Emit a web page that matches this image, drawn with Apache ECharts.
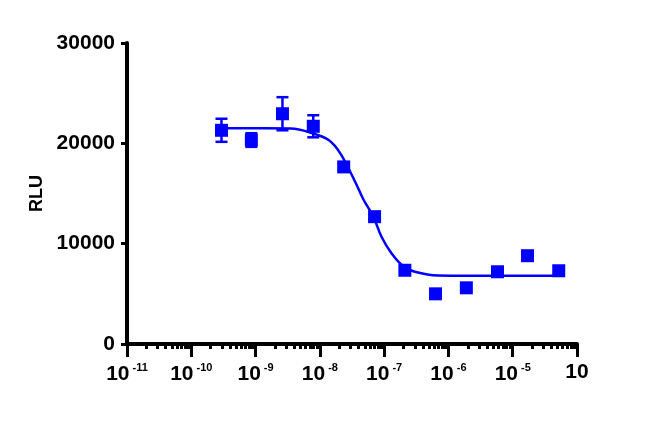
<!DOCTYPE html>
<html>
<head>
<meta charset="utf-8">
<script src="https://cdn.jsdelivr.net/npm/echarts@6/dist/echarts.min.js"></script>
<style>html,body{margin:0;padding:0;background:#fff;}#c{width:650px;height:442px;}</style>
</head>
<body>
<div id="c"></div>
<script>
// Concentrations (M), measured mean RLU and error (SEM)
const concentrations = [2.95e-10, 8.6e-10, 2.62e-9, 7.9e-9, 2.35e-8, 7.1e-8, 2.1e-7, 6.3e-7, 1.9e-6, 5.8e-6, 1.7e-5, 5.2e-5];
const meanRLU = [21300, 20330, 22950, 21700, 17650, 12690, 7350, 5000, 5600, 7200, 8800, 7300];
const errRLU = [1150, 680, 1650, 1100, 350, 250, 0, 0, 0, 0, 0, 0];
// Fitted curve
const curveConc = [2.95e-10, 3.55e-9, 7.5e-9, 1.37e-8, 2.08e-8, 3.55e-8, 4.76e-8, 6.8e-8, 9.1e-8, 1.3e-7, 1.98e-7, 3.0e-7, 6.9e-7, 2.0e-6, 5.3e-5];
const curveRLU = [21500, 21480, 21030, 20330, 19000, 16150, 14400, 12690, 10690, 9040, 7750, 7200, 6820, 6800, 6800];
// Axis tick labels
const xTickExp = ['-11', '-10', '-9', '-8', '-7', '-6', '-5', ''];
const yTicks = [0, 10000, 20000, 30000];

const BLUE = '#0000ff';
const FONT = '"Liberation Sans", Arial, sans-serif';
const chart = echarts.init(document.getElementById('c'), null, {renderer: 'canvas'});

const points = concentrations.map((c, i) => [c, meanRLU[i]]);
const errData = concentrations.map((c, i) => [c, meanRLU[i] - errRLU[i], meanRLU[i] + errRLU[i]]);
const curve = curveConc.map((c, i) => [c, curveRLU[i]]);

chart.setOption({
  animation: false,
  backgroundColor: '#fff',
  grid: {left: 127, right: 73, top: 43, bottom: 98},
  xAxis: {
    type: 'log', logBase: 10, min: 1e-11, max: 1e-4,
    axisLine: {show: true, onZero: false, lineStyle: {color: '#000', width: 4}},
    axisTick: {show: true, length: 13, lineStyle: {color: '#000', width: 3}},
    minorTick: {show: true, splitNumber: 9, length: 5, lineStyle: {color: '#000', width: 3}},
    splitLine: {show: false},
    axisLabel: {
      margin: 18,
      formatter: function (v) {
        const e = Math.round(Math.log10(v));
        const idx = e + 11;
        const s = xTickExp[idx] !== undefined ? xTickExp[idx] : '';
        return s ? '{b|10}{s|' + s + '}' : '{b|10}';
      },
      rich: {
        b: {fontSize: 21, fontWeight: 'bold', fontFamily: FONT, color: '#000'},
        s: {fontSize: 11, fontWeight: 'bold', fontFamily: FONT, color: '#000', verticalAlign: 'top', padding: [0, 0, 13, 3]}
      }
    }
  },
  yAxis: {
    type: 'value', min: yTicks[0], max: yTicks[yTicks.length - 1], interval: 10000,
    name: 'RLU', nameLocation: 'middle', nameGap: 80, nameRotate: 90,
    nameTextStyle: {fontSize: 18, fontWeight: 'bold', fontFamily: FONT, color: '#000'},
    axisLine: {show: true, lineStyle: {color: '#000', width: 4}},
    axisTick: {show: true, length: 6, lineStyle: {color: '#000', width: 3}},
    splitLine: {show: false},
    axisLabel: {
      margin: 12, fontSize: 21, fontWeight: 'bold', fontFamily: FONT, color: '#000',
      formatter: function (v) { return String(v); }
    }
  },
  series: [
    {
      type: 'custom', data: errData, z: 3,
      renderItem: function (params, api) {
        const x = api.value(0), lo = api.value(1), hi = api.value(2);
        if (hi - lo <= 0) return null;
        const pLo = api.coord([x, lo]);
        const pHi = api.coord([x, hi]);
        const cap = 6;
        const st = {stroke: BLUE, lineWidth: 2.5};
        return {
          type: 'group',
          children: [
            {type: 'line', shape: {x1: pLo[0], y1: pLo[1], x2: pHi[0], y2: pHi[1]}, style: st},
            {type: 'line', shape: {x1: pLo[0] - cap, y1: pLo[1], x2: pLo[0] + cap, y2: pLo[1]}, style: st},
            {type: 'line', shape: {x1: pHi[0] - cap, y1: pHi[1], x2: pHi[0] + cap, y2: pHi[1]}, style: st}
          ]
        };
      }
    },
    {
      type: 'line', data: curve, smooth: 0.35, showSymbol: false, z: 2,
      lineStyle: {color: BLUE, width: 2.5}
    },
    {
      type: 'scatter', data: points, symbol: 'rect', symbolSize: 13, z: 4,
      itemStyle: {color: BLUE, opacity: 1}
    }
  ]
});
</script>
</body>
</html>
